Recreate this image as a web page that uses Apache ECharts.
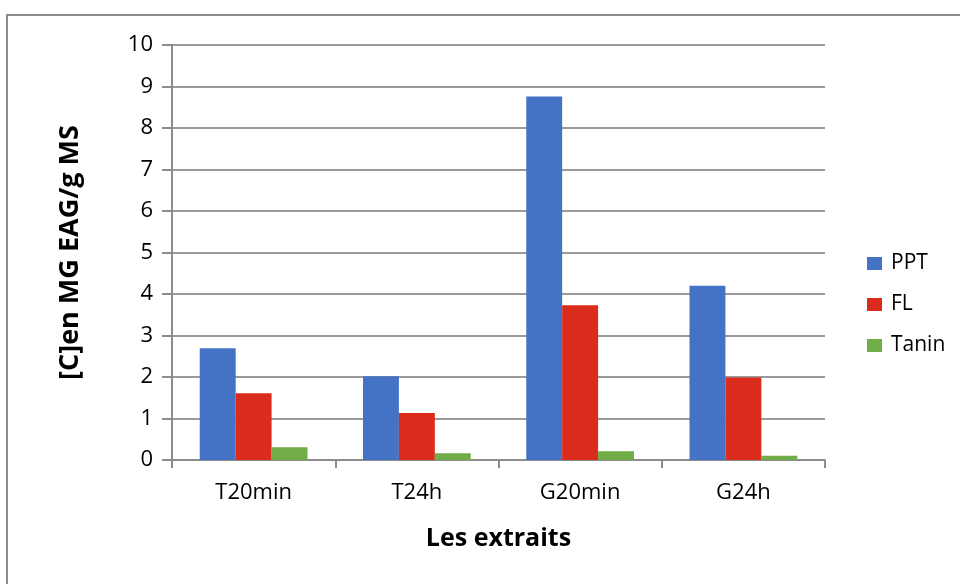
<!DOCTYPE html>
<html><head><meta charset="utf-8">
<script src="https://cdn.jsdelivr.net/npm/echarts@6/dist/echarts.min.js"></script>
<style>html,body{margin:0;padding:0;background:#fff}#c{width:960px;height:584px}</style>
</head><body><div id="c"></div>
<script>
const categories = ['T20min', 'T24h', 'G20min', 'G24h'];
const seriesNames = ['PPT', 'FL', 'Tanin'];
const ppt = [2.69, 2.02, 8.76, 4.20];
const fl = [1.61, 1.13, 3.73, 1.99];
const tanin = [0.31, 0.16, 0.21, 0.10];
const yTicks = [0, 1, 2, 3, 4, 5, 6, 7, 8, 9, 10];
const colors = ['#4472C4', '#DA2B1C', '#70AD47'];
const font = '"Open Sans", Lato, sans-serif';

const chart = echarts.init(document.getElementById('c'), null, {renderer: 'canvas'});
const values = [ppt, fl, tanin];
chart.setOption({
  animation: false,
  backgroundColor: '#fff',
  graphic: [{
    type: 'rect', shape: {x: 7, y: 15, width: 1000, height: 600},
    style: {fill: 'none', stroke: '#8c8c8c', lineWidth: 2}, silent: true
  }],
  grid: {left: 172, right: 135, top: 45, bottom: 124},
  legend: {
    orient: 'vertical', left: 862, top: 248, itemWidth: 15, itemHeight: 13, itemGap: 20,
    icon: 'rect', data: seriesNames,
    textStyle: {fontFamily: font, fontSize: 21, lineHeight: 21, color: '#000', padding: [0, 0, 0, 4]}
  },
  xAxis: {
    type: 'category', data: categories,
    name: 'Les extraits', nameLocation: 'middle', nameGap: 66,
    nameTextStyle: {fontFamily: font, fontSize: 25, fontWeight: 'bold', color: '#000'},
    axisLine: {lineStyle: {color: '#8c8c8c', width: 2}},
    axisTick: {show: true, length: 8, lineStyle: {color: '#8c8c8c', width: 2}},
    axisLabel: {fontFamily: font, fontSize: 22, color: '#000', margin: 22}
  },
  yAxis: {
    type: 'value', min: yTicks[0], max: yTicks[yTicks.length - 1], interval: 1,
    name: '[C]en MG EAG/g MS', nameLocation: 'middle', nameGap: 88,
    nameTextStyle: {fontFamily: font, fontSize: 27, fontWeight: 'bold', color: '#000'},
    axisLine: {show: true, lineStyle: {color: '#8c8c8c', width: 2}},
    axisTick: {show: true, length: 10, lineStyle: {color: '#8c8c8c', width: 2}},
    axisLabel: {fontFamily: font, fontSize: 22, color: '#000', margin: 19},
    splitLine: {lineStyle: {color: '#9a9a9a', width: 2}}
  },
  series: seriesNames.map((n, i) => ({
    name: n, type: 'bar', data: values[i], barGap: '0%', barCategoryGap: '34%',
    itemStyle: {color: colors[i]}
  }))
});
</script></body></html>
